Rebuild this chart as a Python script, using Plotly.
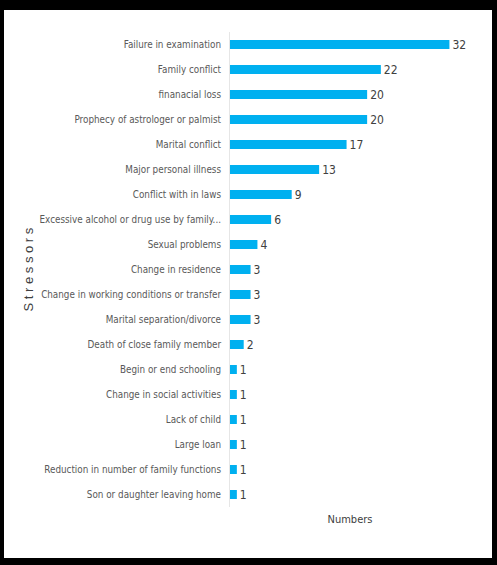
import plotly.graph_objects as go

categories = [
    "Failure in examination",
    "Family conflict",
    "finanacial loss",
    "Prophecy of astrologer or palmist",
    "Marital conflict",
    "Major personal illness",
    "Conflict with in laws",
    "Excessive alcohol or drug use by family...",
    "Sexual problems",
    "Change in residence",
    "Change in working conditions or transfer",
    "Marital separation/divorce",
    "Death of close family member",
    "Begin or end schooling",
    "Change in social activities",
    "Lack of child",
    "Large loan",
    "Reduction in number of family functions",
    "Son or daughter leaving home",
]
values = [32, 22, 20, 20, 17, 13, 9, 6, 4, 3, 3, 3, 2, 1, 1, 1, 1, 1, 1]
y_title = "S t r e s s o r s"
x_title = "Numbers"

narrow = "Liberation Sans Narrow, DejaVu Sans Condensed, Roboto, sans-serif"

fig = go.Figure(go.Bar(
    x=values, y=categories, orientation="h",
    marker=dict(color="#00B0F0", line=dict(width=0)),
    text=[str(v) for v in values], textposition="outside",
    textfont=dict(family=narrow, size=12, color="#404040"),
    constraintext="none", cliponaxis=False,
))

L, R, T, B = 230, 27, 32, 58
pw, ph = 497 - L - R, 565 - T - B
def px(x): return (x - L) / pw
def py(y): return 1 - (y - T) / ph

fig.update_layout(
    width=497, height=565,
    margin=dict(l=L, r=R, t=T, b=B, pad=0, autoexpand=False),
    paper_bgcolor="black", plot_bgcolor="white",
    bargap=0.64, showlegend=False,
    xaxis=dict(range=[0, 35], showticklabels=False, showgrid=False, zeroline=False,
               showline=False, ticks="", automargin=False,
               title=dict(text=x_title, font=dict(family=narrow, size=11, color="#404040"), standoff=8)),
    yaxis=dict(autorange="reversed", showgrid=False, zeroline=False, automargin=False,
               showline=True, linecolor="#e6e6e6", linewidth=1, ticks="",
               ticklabelstandoff=6,
               tickfont=dict(family=narrow, size=9.8, color="#595959")),
)
fig.add_annotation(text=y_title, xref="paper", yref="paper", x=px(28), y=0.5,
                   xanchor="center", yanchor="middle", textangle=-90, showarrow=False,
                   font=dict(family="Liberation Sans, Arial, sans-serif", size=13, color="#404040"))
# white page rectangle inside black border
fig.add_shape(type="rect", xref="paper", yref="paper", layer="below",
              x0=px(4), x1=px(492), y0=py(558), y1=py(10),
              fillcolor="white", line=dict(width=0))
fig.write_html("out.html")
